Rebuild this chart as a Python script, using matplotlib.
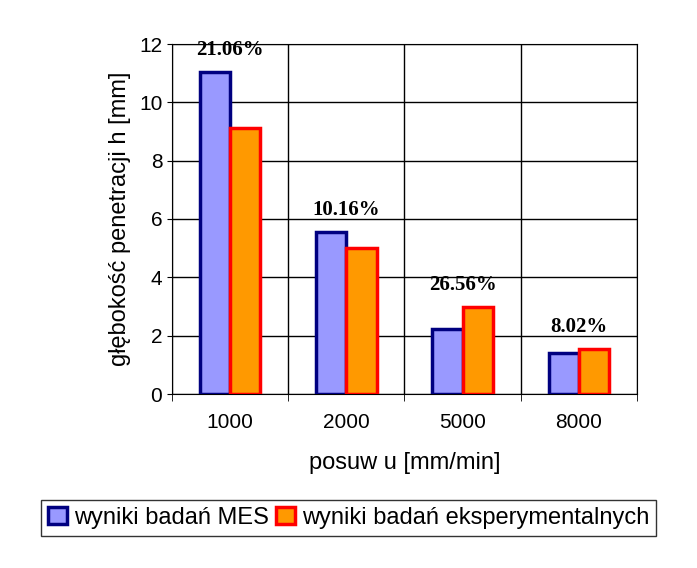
import matplotlib
matplotlib.use("Agg")
import matplotlib.pyplot as plt
import numpy as np

categories = ["1000", "2000", "5000", "8000"]
mes = [11.05, 5.55, 2.22, 1.40]
exper = [9.12, 5.00, 2.98, 1.55]
diff_labels = ["21.06%", "10.16%", "26.56%", "8.02%"]
label_y = [11.3, 5.8, 3.25, 1.8]

plt.rcParams["font.family"] = ["Liberation Sans", "DejaVu Sans"]

fig = plt.figure(figsize=(6.97, 5.68), dpi=100)
ax = fig.add_axes([172 / 697, 1 - 394 / 568, 465 / 697, 350 / 568])

x = np.arange(len(categories))
w = 0.26
b1 = ax.bar(x - w / 2, mes, w, color="#9999ff", edgecolor="#000080", linewidth=2.5,
            label="wyniki badań MES", zorder=3)
b2 = ax.bar(x + w / 2, exper, w, color="#ff9900", edgecolor="#ff0000", linewidth=2.5,
            label="wyniki badań eksperymentalnych", zorder=3)

for xi, txt, yy in zip(x, diff_labels, label_y):
    ax.text(xi, yy + 0.15, txt, ha="center", va="bottom", fontsize=15, fontweight="bold",
            family=["Liberation Serif", "DejaVu Serif"])

ax.set_xlim(-0.5, len(categories) - 0.5)
ax.set_ylim(0, 12)
ax.set_yticks(range(0, 13, 2))
ax.set_xticks(x)
ax.set_xticklabels(categories)
ax.set_xticks(np.arange(-0.5, len(categories), 1), minor=True)
ax.tick_params(axis="x", which="major", length=0, pad=14, labelsize=15)
ax.tick_params(axis="x", which="minor", length=5)
ax.tick_params(axis="y", labelsize=15)
ax.grid(axis="y", color="black", linewidth=1, zorder=0)
ax.grid(axis="x", which="minor", color="black", linewidth=1, zorder=0)
for s in ax.spines.values():
    s.set_color("black")

ax.set_xlabel("posuw u [mm/min]", fontsize=17, labelpad=14)
ax.set_ylabel("głębokość penetracji h [mm]", fontsize=17, labelpad=6)

fig.legend(handles=[b1, b2], loc="center", bbox_to_anchor=(0.5, 1 - 518 / 568), ncol=2,
           fontsize=17, frameon=True, fancybox=False, edgecolor="black",
           handlelength=0.8, handletextpad=0.3, columnspacing=0.3, borderpad=0.3)

fig.savefig("out.png", dpi=100)
